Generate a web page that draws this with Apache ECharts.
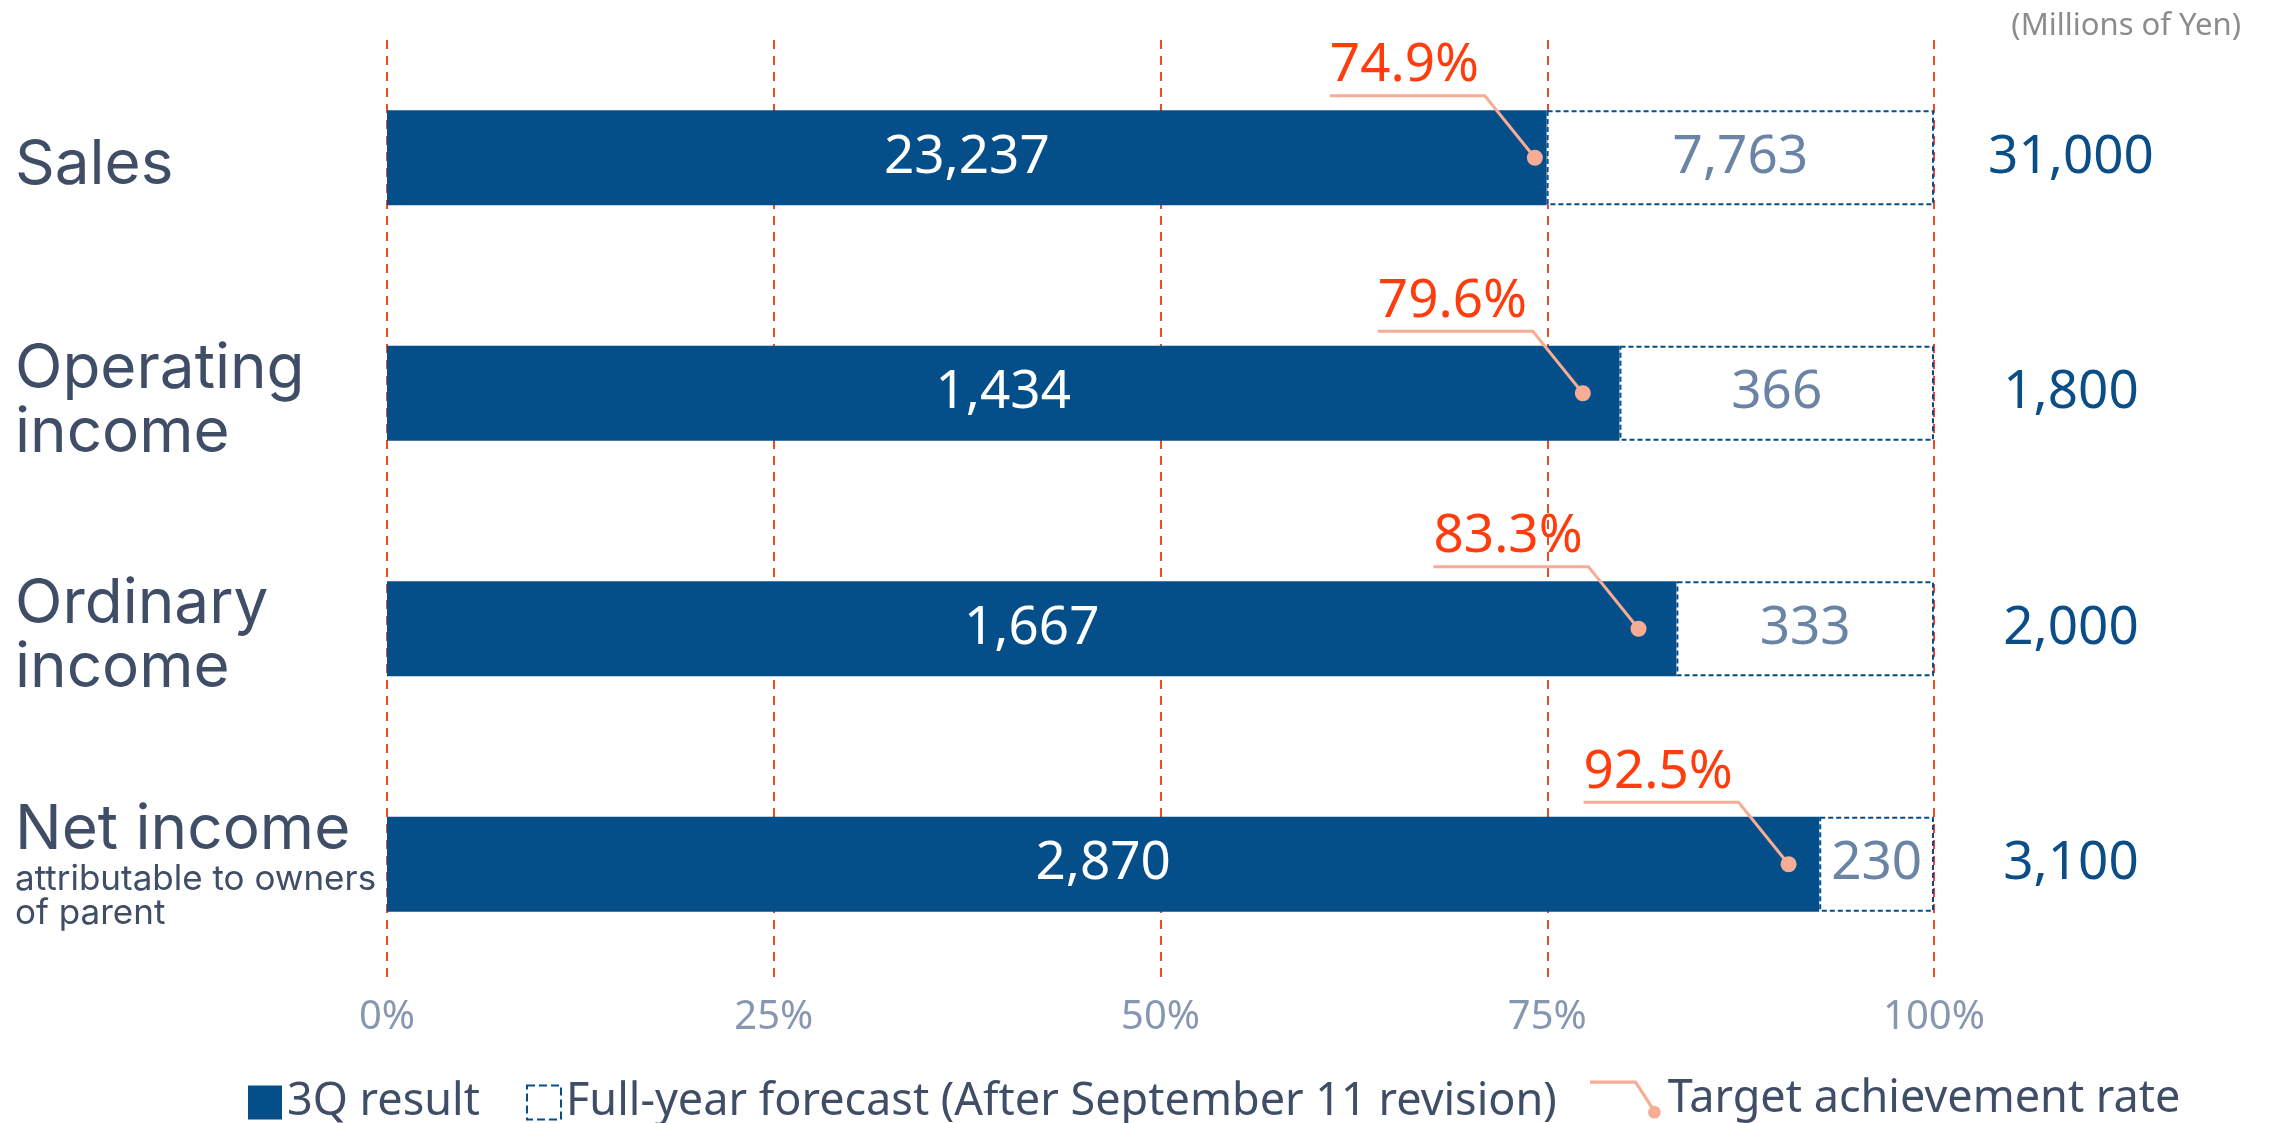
<!DOCTYPE html>
<html>
<head>
<meta charset="utf-8">
<script src="https://cdn.jsdelivr.net/npm/echarts@6/dist/echarts.min.js"></script>
<style>
  html, body { margin: 0; padding: 0; background: #fff; }
  #chartImg { width: 2284px; height: 1123px; }
</style>
</head>
<body>
<div id="chartImg"></div>
<script>
var categories = ['Sales', 'Operating\nincome', 'Ordinary\nincome', 'Net income'];
var notes = ['', '', '', 'attributable to owners\nof parent'];
var results = [23237, 1434, 1667, 2870];
var forecastRest = [7763, 366, 333, 230];
var totals = [31000, 1800, 2000, 3100];
var rates = [74.9, 79.6, 83.3, 92.5];
var markerAt = [74.2, 77.3, 80.9, 90.6];
var xTicks = [0, 25, 50, 75, 100];

var navy = '#044E8A';
var salmon = '#F7AC96';
var numFont = '"Noto Sans", sans-serif';

function fmt(n) { return n.toLocaleString('en-US'); }

var resultPct = results.map(function (v, i) { return v / totals[i] * 100; });
var restPct = forecastRest.map(function (v, i) { return v / totals[i] * 100; });
var rateData = markerAt.map(function (v, i) { return [v, i, rates[i]]; });

function renderRate(params, api) {
  var p = api.coord([api.value(0), api.value(1)]);
  var kx = p[0] - 50, ky = p[1] - 62;
  var lx = kx - 155;
  return {
    type: 'group',
    children: [
      { type: 'polyline', shape: { points: [[p[0], p[1]], [kx, ky], [lx, ky]] },
        style: { stroke: salmon, lineWidth: 3, fill: null } },
      { type: 'circle', shape: { cx: p[0], cy: p[1], r: 8 }, style: { fill: salmon } },
      { type: 'text', x: lx, y: ky - 3,
        style: { text: api.value(2).toFixed(1) + '%', fill: '#FF3C0C',
                 font: '53px ' + numFont, align: 'left', verticalAlign: 'bottom' } }
    ]
  };
}

var legendText = { fontSize: 45, color: '#3F4E66', fontFamily: numFont };

var myChart = echarts.init(document.getElementById('chartImg'));
var option = {
  animation: false,
  title: {
    text: '(Millions of Yen)',
    right: 38, top: 6,
    textStyle: { fontSize: 31, fontWeight: 'normal', color: '#8C8C8C', fontFamily: numFont }
  },
  legend: [
    {
      data: [{ name: '3Q result', icon: 'rect' }],
      left: 243, top: 1075, itemWidth: 34, itemHeight: 34,
      textStyle: legendText
    },
    {
      data: [{ name: 'Full-year forecast (After September 11 revision)', icon: 'rect' }],
      left: 521, top: 1075, itemWidth: 34, itemHeight: 34,
      itemStyle: { color: '#fff', borderColor: navy, borderWidth: 2, borderType: 'dashed' },
      textStyle: legendText
    },
    {
      data: [{ name: 'Target achievement rate',
               icon: 'path://M0,0 H44 L62,28 L59.5,29.6 L42.4,3 H0 Z M55,30 A6,6 0 1 1 67,30 A6,6 0 1 1 55,30 Z' }],
      left: 1585, top: 1072, itemWidth: 75, itemHeight: 38,
      textStyle: legendText
    }
  ],
  grid: { left: 387, right: 350, top: 40, bottom: 141 },
  xAxis: {
    type: 'value', min: 0, max: 100, interval: 25,
    axisLine: { show: false }, axisTick: { show: false },
    axisLabel: { formatter: '{value}%', fontSize: 40, color: '#8797B2', margin: 16, fontFamily: numFont },
    splitLine: { show: true, lineStyle: { color: '#EE4B24', width: 2, type: [9, 7] } }
  },
  yAxis: [
    {
      type: 'category', data: categories, inverse: true,
      axisLine: { show: false }, axisTick: { show: false },
      axisLabel: {
        align: 'left', margin: 372,
        formatter: function (v, i) {
          var s = v.split('\n').map(function (l) { return '{big|' + l + '}'; }).join('\n');
          if (notes[i]) {
            s += '\n' + notes[i].split('\n').map(function (l) { return '{small|' + l + '}'; }).join('\n');
          } else {
            s = '{gap| }\n' + s;
          }
          return s;
        },
        rich: {
          big: { fontSize: 62, lineHeight: 64, color: '#3F4E66', fontFamily: 'Inter, sans-serif' },
          small: { fontSize: 35, lineHeight: 34, color: '#3F4E66', fontFamily: 'Inter, sans-serif' },
          gap: { fontSize: 4, lineHeight: 16 }
        }
      }
    },
    {
      type: 'category', data: totals.map(fmt), inverse: true, position: 'right',
      axisLine: { show: false }, axisTick: { show: false },
      axisLabel: { align: 'center', margin: 137, fontSize: 53, color: '#0B4D87', fontFamily: numFont }
    }
  ],
  series: [
    {
      name: '3Q result', type: 'bar', stack: 'total', barWidth: 95,
      data: resultPct,
      itemStyle: { color: navy },
      label: {
        show: true, position: 'inside', color: '#fff', fontSize: 53, fontFamily: numFont,
        formatter: function (p) { return fmt(results[p.dataIndex]); }
      }
    },
    {
      name: 'Full-year forecast (After September 11 revision)', type: 'bar', stack: 'total', barWidth: 95,
      data: restPct,
      itemStyle: { color: '#fff', borderColor: navy, borderWidth: 2, borderType: [5, 3] },
      label: {
        show: true, position: 'inside', color: '#6A84A6', fontSize: 53, fontFamily: numFont,
        formatter: function (p) { return fmt(forecastRest[p.dataIndex]); }
      }
    },
    {
      name: 'Target achievement rate', type: 'custom',
      renderItem: renderRate, data: rateData,
      encode: { x: 0, y: 1 }, itemStyle: { color: salmon }, z: 5
    }
  ]
};
myChart.setOption(option);
</script>
</body>
</html>
